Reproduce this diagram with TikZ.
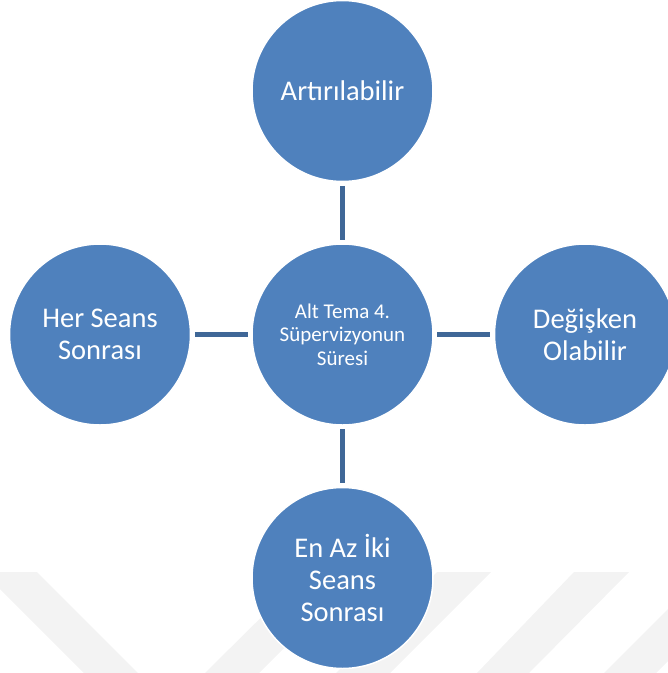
\documentclass[tikz,border=0pt]{standalone}
\usepackage{fontspec}
\setmainfont{Carlito}
\definecolor{bubblefill}{HTML}{4F81BD}
\definecolor{linkcolor}{HTML}{3F6797}
\definecolor{markgray}{HTML}{F3F3F3}

\begin{document}
\begin{tikzpicture}[x=1pt,y=-1pt,
  bubble/.style={circle, fill=bubblefill, draw=white, line width=1.5pt,
    minimum size=181pt, inner sep=0pt, text=white, align=center,
    font=\fontsize{28.5}{32}\selectfont},
  hub/.style={bubble, font=\fontsize{21}{23.5}\selectfont},
  linkline/.style={draw=linkcolor, line width=5pt, shorten <=3.5pt, shorten >=3.5pt}]
\useasboundingbox (0,0) rectangle (668,673);

% faint chevron bands along the bottom edge
\begin{scope}
  \clip (0,0) rectangle (668,673);
  \fill[markgray] (-17,572) -- (37,572) -- (138,673) -- (84,673) -- cycle;
  \fill[markgray] (307,572) -- (361,572) -- (259,673) -- (205,673) -- cycle;
  \fill[markgray] (437,572) -- (491,572) -- (390,673) -- (336,673) -- cycle;
  \fill[markgray] (574,572) -- (629,572) -- (529,673) -- (477,673) -- cycle;
  \fill[markgray] (705,572) -- (757,572) -- (656,673) -- (604,673) -- cycle;
\end{scope}

% circles
\node[bubble] (up)    at (342.5,91)    {Artırılabilir};
\node[hub]    (hub)   at (342.5,334.5) {Alt Tema 4.\\Süpervizyonun\\Süresi};
\node[bubble] (left)  at (100,334.5)   {Her Seans\\Sonrası};
\node[bubble] (right) at (585,334.5)   {Değişken\\Olabilir};
\node[bubble] (down)  at (342.5,578)   {En Az İki\\Seans\\Sonrası};

% spokes
\draw[linkline] (up) -- (hub);
\draw[linkline] (hub) -- (down);
\draw[linkline] (left) -- (hub);
\draw[linkline] (hub) -- (right);
\end{tikzpicture}
\end{document}
